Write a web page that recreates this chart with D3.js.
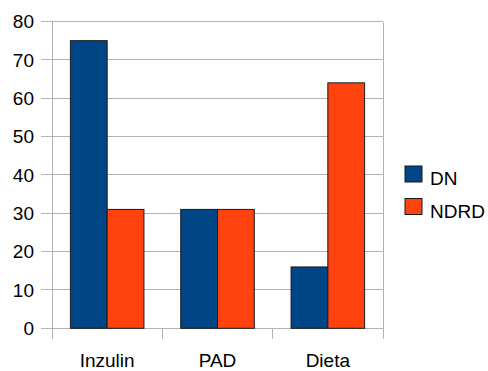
<!DOCTYPE html>
<html>
<head>
<meta charset="utf-8">
<script src="https://cdn.jsdelivr.net/npm/d3@7"></script>
<style>
  html, body { margin: 0; padding: 0; background: #fff; }
  svg { display: block; font-family: "Liberation Sans", Arial, sans-serif; }
</style>
</head>
<body>
<svg id="chart" width="488" height="371"></svg>
<script>
// Categories, series and values
const categories = ["Inzulin", "PAD", "Dieta"];
const seriesNames = ["DN", "NDRD"];
const dnValues = [75, 31, 16];
const ndrdValues = [31, 31, 64];
const yTicks = [0, 10, 20, 30, 40, 50, 60, 70, 80];
const colors = ["#004586", "#ff420e"];

const svg = d3.select("#chart");
const plot = { left: 52, right: 383, top: 21.5, bottom: 328.3 };
const fontSize = 19;

const x = d3.scaleBand().domain(categories).range([plot.left, plot.right]).paddingInner(0).paddingOuter(0);
const xInner = d3.scaleBand().domain(seriesNames).range([0, x.bandwidth()]).paddingInner(0).paddingOuter(0.5);
const y = d3.scaleLinear().domain([0, 80]).range([plot.bottom, plot.top]);

const grid = "#b3b3b3";

// horizontal grid lines with left tick marks
svg.append("g").selectAll("line").data(yTicks).join("line")
  .attr("x1", plot.left - 11).attr("x2", plot.right)
  .attr("y1", d => y(d)).attr("y2", d => y(d))
  .attr("stroke", grid).attr("stroke-width", 1).attr("shape-rendering", "crispEdges");

// vertical frame lines
svg.append("line").attr("x1", plot.left).attr("x2", plot.left)
  .attr("y1", plot.top).attr("y2", plot.bottom + 11)
  .attr("stroke", grid).attr("shape-rendering", "crispEdges");
svg.append("line").attr("x1", plot.right).attr("x2", plot.right)
  .attr("y1", plot.top).attr("y2", plot.bottom + 11)
  .attr("stroke", grid).attr("shape-rendering", "crispEdges");

// category boundary ticks
svg.append("g").selectAll("line").data(categories.slice(1)).join("line")
  .attr("x1", d => x(d)).attr("x2", d => x(d))
  .attr("y1", plot.bottom).attr("y2", plot.bottom + 11)
  .attr("stroke", grid).attr("shape-rendering", "crispEdges");

// y tick labels
svg.append("g").selectAll("text").data(yTicks).join("text")
  .attr("x", 34).attr("y", d => y(d)).attr("dy", "0.36em")
  .attr("text-anchor", "end").attr("font-size", fontSize).attr("fill", "#000")
  .text(d => d);

// x labels
svg.append("g").selectAll("text").data(categories).join("text")
  .attr("x", d => x(d) + x.bandwidth() / 2).attr("y", 366.5)
  .attr("text-anchor", "middle").attr("font-size", fontSize).attr("fill", "#000")
  .text(d => d);

// bars
const series = [dnValues, ndrdValues];
const groups = svg.append("g").selectAll("g").data(series).join("g")
  .attr("fill", (d, i) => colors[i]);
groups.each(function (vals, si) {
  d3.select(this).selectAll("rect").data(vals).join("rect")
    .attr("x", (v, ci) => x(categories[ci]) + xInner(seriesNames[si]))
    .attr("width", xInner.bandwidth())
    .attr("y", v => y(v))
    .attr("height", v => y(0) - y(v))
    .attr("stroke", "#1a1a1a").attr("stroke-width", 1);
});

// legend
const legend = svg.append("g").selectAll("g").data(seriesNames).join("g")
  .attr("transform", (d, i) => `translate(405, ${166 + i * 32.5})`);
legend.append("rect").attr("width", 17).attr("height", 16)
  .attr("fill", (d, i) => colors[i]).attr("stroke", "#1a1a1a");
legend.append("text").attr("x", 25).attr("y", 19)
  .attr("font-size", fontSize).attr("fill", "#000").text(d => d);
</script>
</body>
</html>
